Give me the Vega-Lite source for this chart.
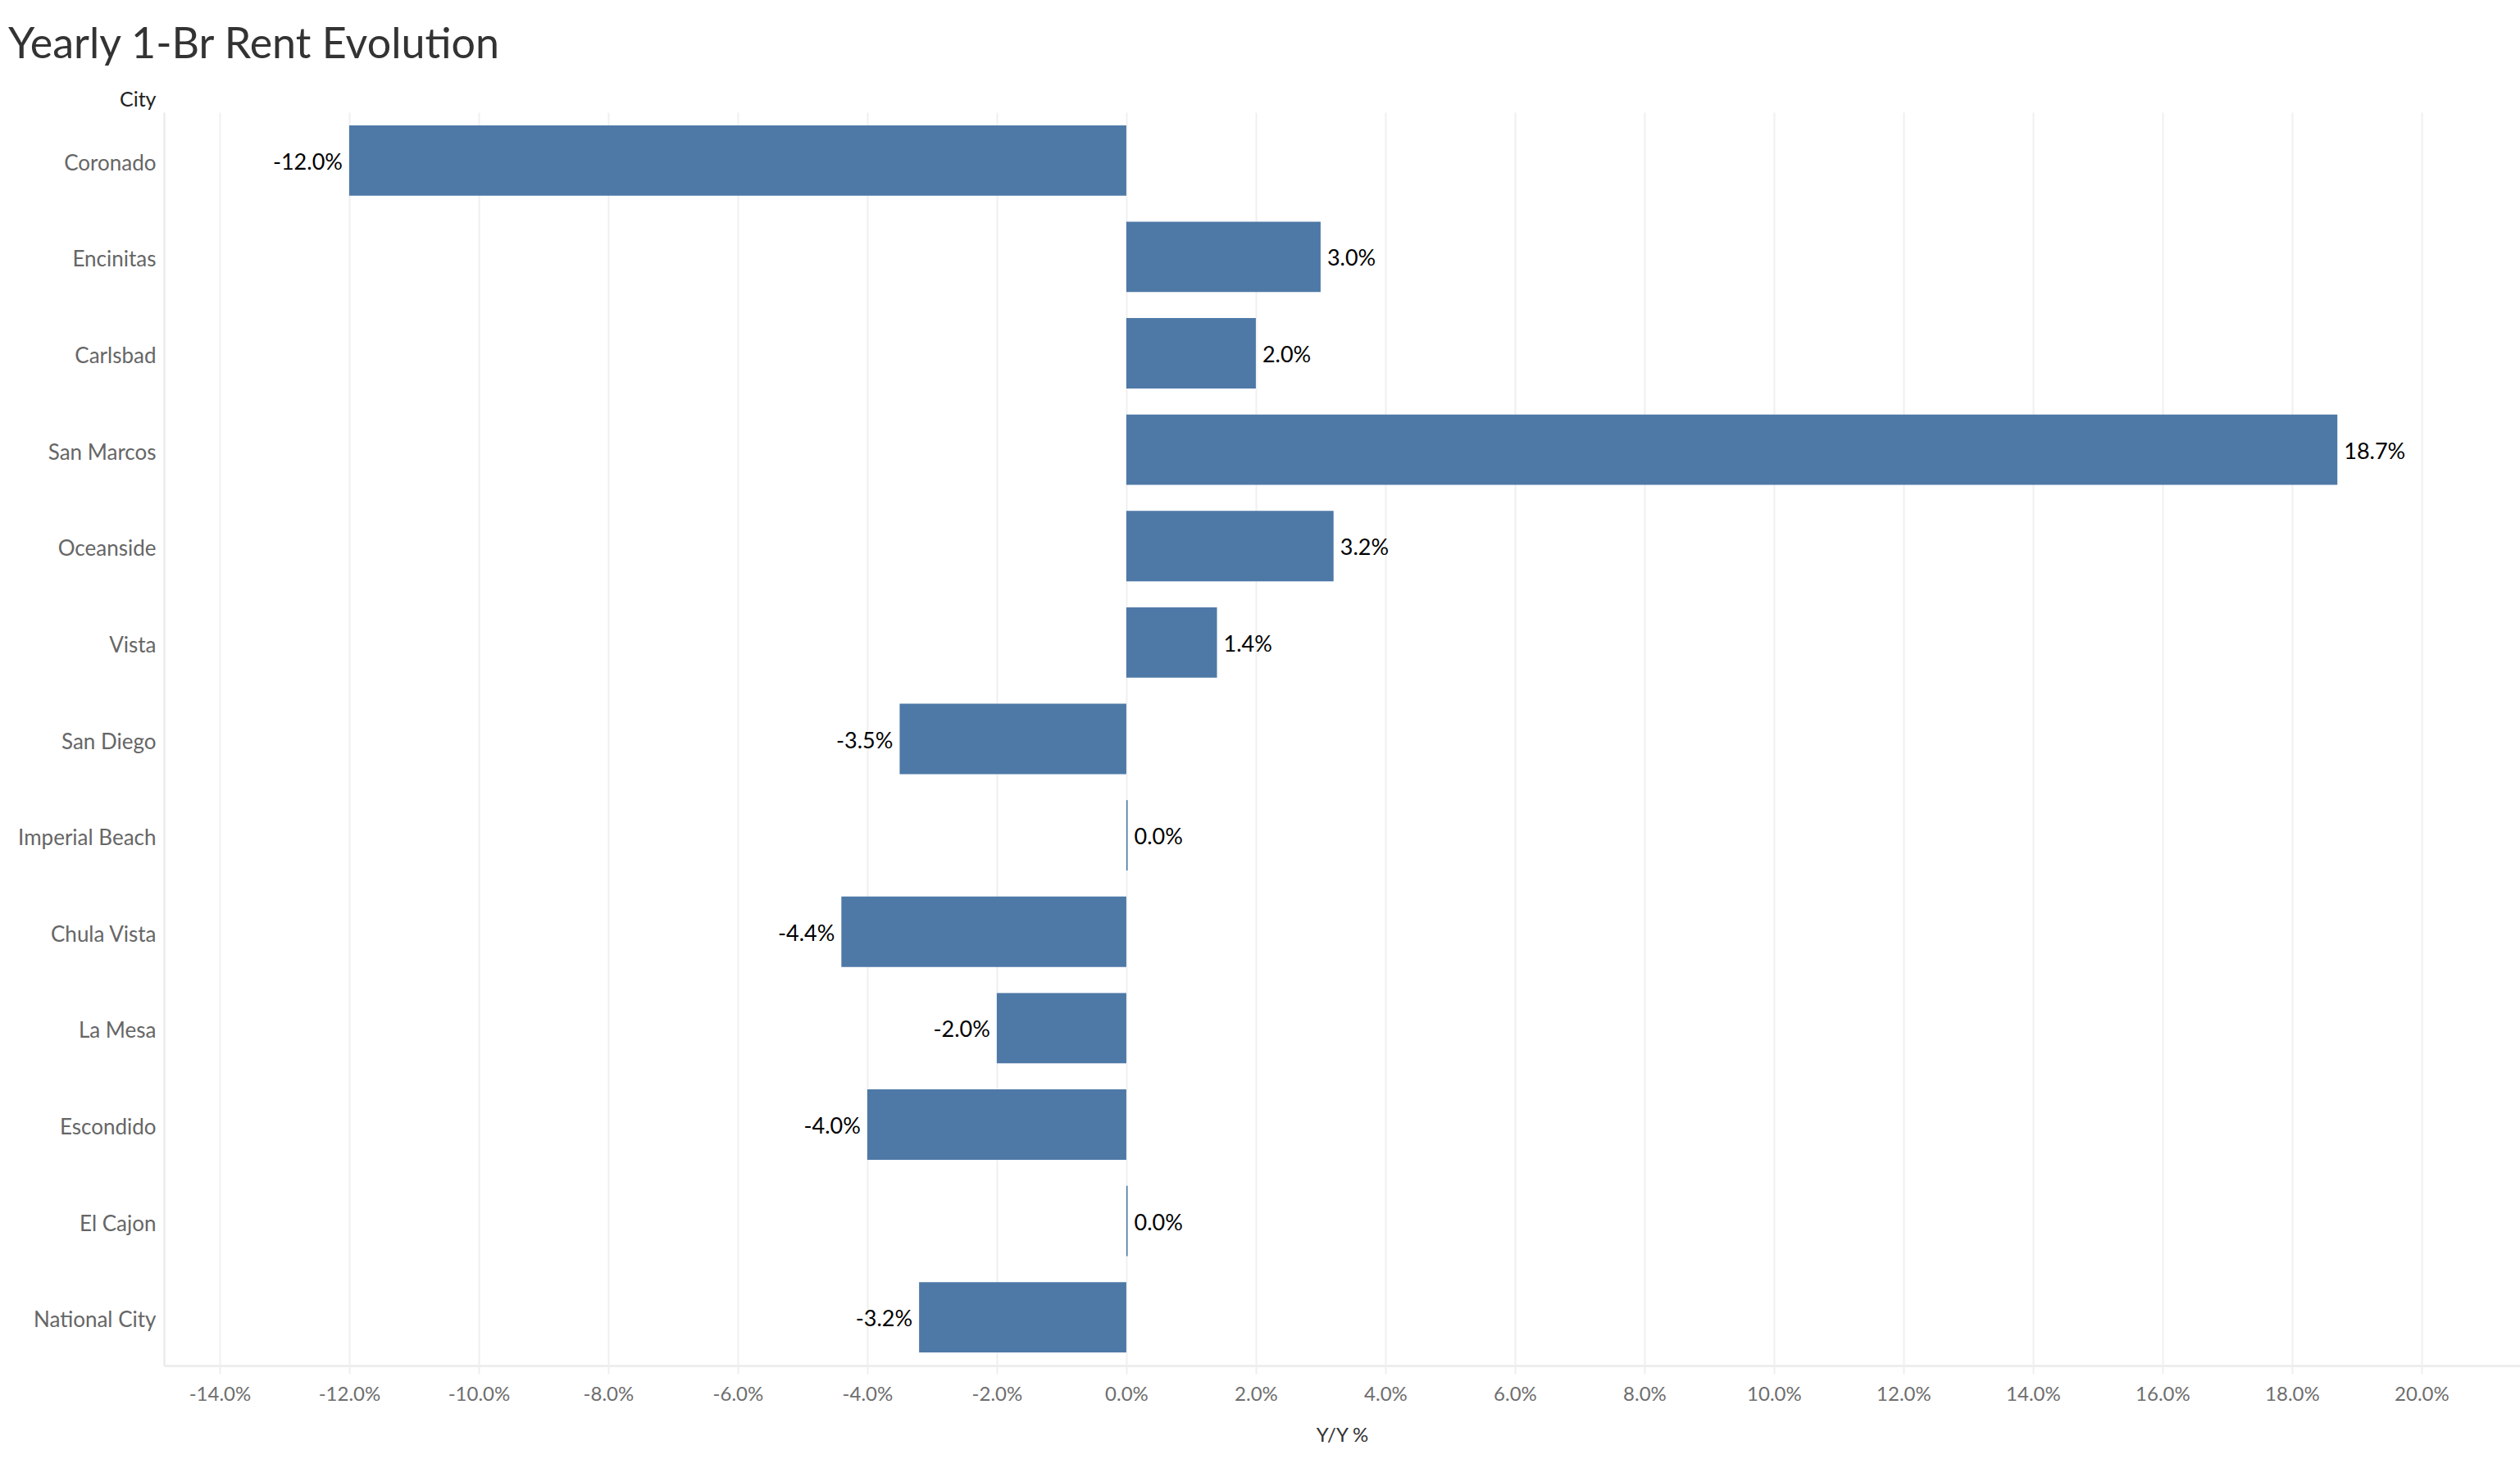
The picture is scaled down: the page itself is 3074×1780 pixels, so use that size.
{
  "$schema": "https://vega.github.io/schema/vega-lite/v6.json",
  "autosize": {"type": "none"},
  "padding": {"left": 200, "top": 137, "right": 0, "bottom": 114},
  "width": 2874,
  "height": 1529,
  "background": "white",
  "title": {
    "text": "Yearly 1-Br Rent Evolution",
    "anchor": "start",
    "frame": "group",
    "dx": -190,
    "offset": 27,
    "font": "Lato",
    "fontSize": 52,
    "fontWeight": "normal",
    "color": "#333333"
  },
  "config": {
    "view": {"stroke": null},
    "font": "Lato",
    "locale": {
      "number": {"decimal": ".", "thousands": ",", "grouping": [3], "currency": ["$", ""], "minus": "-"}
    }
  },
  "data": {
    "values": [
      {"City": "Coronado", "yoy": -0.120},
      {"City": "Encinitas", "yoy": 0.030},
      {"City": "Carlsbad", "yoy": 0.020},
      {"City": "San Marcos", "yoy": 0.187},
      {"City": "Oceanside", "yoy": 0.032},
      {"City": "Vista", "yoy": 0.014},
      {"City": "San Diego", "yoy": -0.035},
      {"City": "Imperial Beach", "yoy": 0.0002},
      {"City": "Chula Vista", "yoy": -0.044},
      {"City": "La Mesa", "yoy": -0.020},
      {"City": "Escondido", "yoy": -0.040},
      {"City": "El Cajon", "yoy": 0.0002},
      {"City": "National City", "yoy": -0.032}
    ]
  },
  "encoding": {
    "y": {
      "field": "City", "type": "nominal", "sort": null,
      "scale": {"paddingInner": 0.27, "paddingOuter": 0.135},
      "axis": {
        "title": "City", "titleAngle": 0, "titleAlign": "right", "titleBaseline": "bottom",
        "titleX": -10, "titleY": -3, "titleFont": "Lato", "titleFontSize": 25,
        "titleFontWeight": "normal", "titleColor": "#222222",
        "labelFont": "Lato", "labelFontSize": 26, "labelColor": "#666666", "labelPadding": 10,
        "labelOffset": 4,
        "ticks": false, "domain": true, "domainColor": "#e8e8e8", "domainWidth": 2, "grid": false
      }
    }
  },
  "layer": [
    {
      "mark": {"type": "bar", "color": "#4e79a7"},
      "encoding": {
        "x": {
          "field": "yoy", "type": "quantitative",
          "scale": {"domain": [-0.1486, 0.2152], "nice": false, "zero": false},
          "axis": {
            "title": "Y/Y %", "titleFont": "Lato", "titleFontSize": 24, "titleFontWeight": "normal",
            "titleColor": "#333333", "titlePadding": 26,
            "values": [-0.14, -0.12, -0.10, -0.08, -0.06, -0.04, -0.02, 0, 0.02, 0.04, 0.06, 0.08, 0.10, 0.12, 0.14, 0.16, 0.18, 0.20],
            "format": ".1%",
            "labelFont": "Lato", "labelFontSize": 24, "labelColor": "#6e6e6e", "labelPadding": 13,
            "domainColor": "#eeeeee", "domainWidth": 3,
            "tickColor": "#eeeeee", "tickSize": 10, "tickWidth": 2,
            "grid": true, "gridColor": "#f0f0f0", "gridWidth": 2
          }
        }
      }
    },
    {
      "mark": {"type": "rule", "color": "#c4c4c4", "strokeWidth": 2, "strokeDash": [4, 3]},
      "encoding": {"x": {"datum": 0, "type": "quantitative"}}
    },
    {
      "transform": [{"filter": "datum.yoy < 0"}],
      "mark": {"type": "text", "align": "right", "dx": -8, "dy": 3, "font": "Lato", "fontSize": 27, "color": "#000000"},
      "encoding": {
        "x": {"field": "yoy", "type": "quantitative"},
        "text": {"field": "yoy", "type": "quantitative", "format": ".1%"}
      }
    },
    {
      "transform": [{"filter": "datum.yoy >= 0"}],
      "mark": {"type": "text", "align": "left", "dx": 8, "dy": 3, "font": "Lato", "fontSize": 27, "color": "#000000"},
      "encoding": {
        "x": {"field": "yoy", "type": "quantitative"},
        "text": {"field": "yoy", "type": "quantitative", "format": ".1%"}
      }
    }
  ]
}
